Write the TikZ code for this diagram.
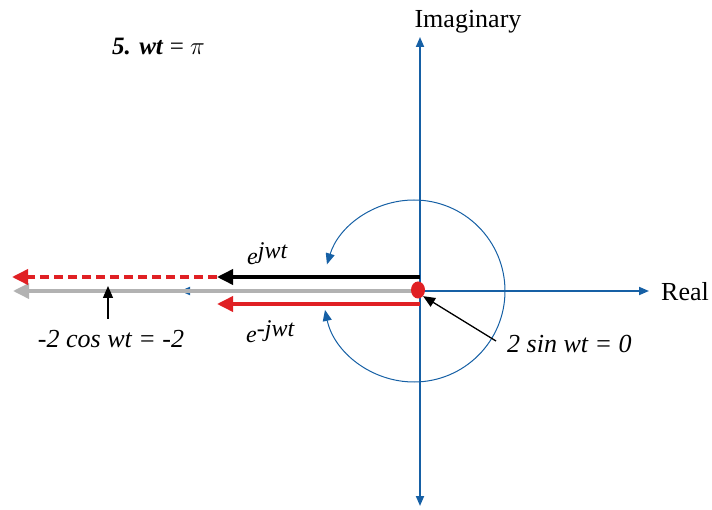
\documentclass[tikz,border=0pt]{standalone}
\usepackage{fontspec}
\setmainfont{Liberation Serif}
\usetikzlibrary{arrows.meta,calc,shapes.geometric}
\definecolor{axisblue}{RGB}{22,96,165}
\definecolor{vred}{RGB}{224,32,36}
\definecolor{vgray}{RGB}{178,178,178}
\tikzset{
  axis/.style={axisblue, line width=1.8pt, -{Triangle[length=10pt,width=8pt]}},
  rot/.style={axisblue, line width=1pt, -{Triangle[length=11pt,width=9pt]}},
  vec/.style={line width=3.6pt, -{Triangle[length=16pt,width=15pt]}},
  ptr/.style={black, line width=1.3pt, -{Triangle[length=12pt,width=10pt]}},
  lbl/.style={font=\fontsize{26}{30}\selectfont, inner sep=0pt},
  ilbl/.style={font=\fontsize{26}{30}\selectfont\itshape, inner sep=0pt},
  elbl/.style={font=\fontsize{24}{28}\selectfont\itshape, inner sep=0pt}
}
\begin{document}
\begin{tikzpicture}[x=1pt,y=-1pt]
\useasboundingbox (0,0) rectangle (712,510);
% coordinates
\coordinate (O) at (420,291);
\coordinate (C) at (414,291);
\coordinate (Ytop) at (420,37);
\coordinate (Ybot) at (420,506);
\coordinate (Xright) at (649,291);
\coordinate (Xleft) at (180,291);
% axes
\draw[axis] (O) -- (Ytop);
\draw[axis] (O) -- (Ybot);
\draw[axis] (O) -- (Xright);
\draw[axis] (O) -- (Xleft);
% rotation arcs
\draw[rot] ($(C)+(91,0)$) arc[start angle=0,end angle=168,radius=91];
\draw[rot] ($(C)+(91,0)$) arc[start angle=0,end angle=-163,radius=91];
% vectors
\coordinate (Bstart) at (420,277);
\coordinate (Bend) at (217,277);
\coordinate (RDend) at (12,277);
\coordinate (Gend) at (13,291);
\coordinate (Rstart) at (420,304);
\coordinate (Rend) at (217,304);
\draw[vec, vgray] (O) -- (Gend);
\draw[vec, vred, dashed, dash pattern=on 9pt off 5pt] (Bend) -- (RDend);
\draw[vec, black] (Bstart) -- (Bend);
\draw[vec, vred] (Rstart) -- (Rend);
% origin dot
\node[fill=vred, ellipse, minimum width=14pt, minimum height=17pt, inner sep=0pt] (dot) at (418,290) {};
% labels
\node[lbl] (imag) at (468,22) {Imaginary};
\node[lbl, anchor=west] (real) at (661,292) {Real};
\node[anchor=west, inner sep=0pt, font=\fontsize{25}{29}\selectfont] (title) at (112,46) {\textbf{\textit{5. wt}} = $\pi$};
\node[elbl, anchor=west] (ejwt) at (247,254) {e\raisebox{6pt}{jwt}};
\node[elbl, anchor=west] (emjwt) at (246,332) {e\raisebox{6pt}{-jwt}};
\node[ilbl] (cosl) at (111,339) {-2 cos wt = -2};
\node[ilbl, anchor=west] (sinl) at (507,344) {2 sin wt = 0};
% pointers
\coordinate (cosp) at (108,319);
\coordinate (cost) at (108,286);
\draw[ptr] (cosp) -- (cost);
\coordinate (sinp) at (496,341);
\draw[ptr] (sinp) -- (dot.south east);
\end{tikzpicture}
\end{document}
